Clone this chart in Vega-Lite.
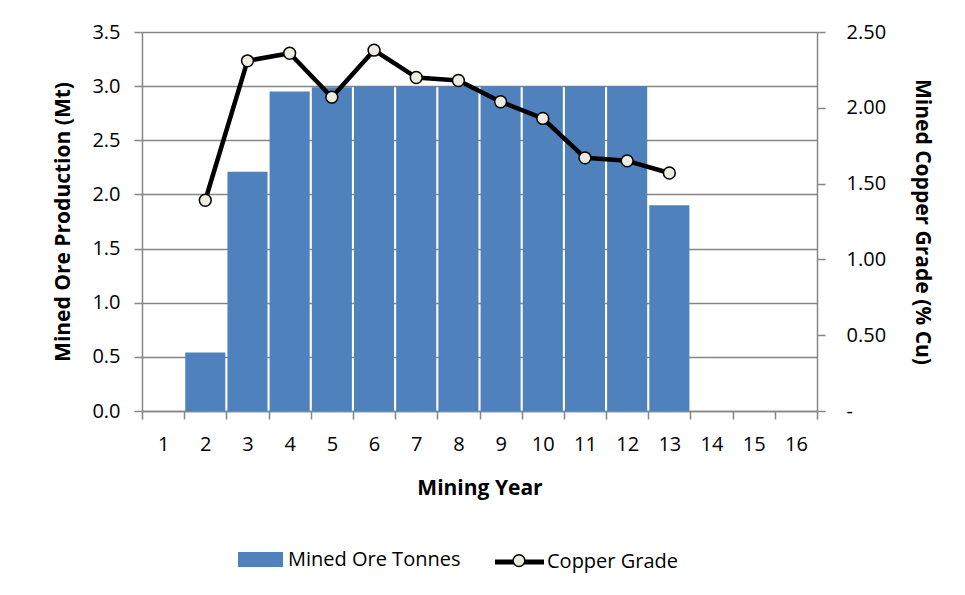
{
  "$schema": "https://vega.github.io/schema/vega-lite/v6.json",
  "width": 675,
  "height": 379,
  "autosize": {"type": "none"},
  "padding": {"left": 142, "top": 32, "right": 148, "bottom": 184},
  "background": "white",
  "config": {
    "view": {"stroke": null},
    "font": "Open Sans",
    "axis": {
      "labelFont": "Open Sans",
      "labelFontSize": 20,
      "labelColor": "black",
      "titleFont": "Open Sans",
      "titleFontSize": 21,
      "titleFontWeight": "bold",
      "titleColor": "black",
      "domainColor": "#868686",
      "domainWidth": 1.5,
      "tickColor": "#868686",
      "tickWidth": 1.5,
      "tickSize": 8,
      "gridColor": "#868686",
      "gridWidth": 1.5
    },
    "legend": {
      "labelFont": "Open Sans",
      "labelFontSize": 20,
      "labelColor": "black",
      "labelLimit": 400,
      "padding": 0,
      "orient": "none",
      "direction": "horizontal",
      "title": null
    }
  },
  "data": {
    "values": [
      {"year": 1, "tonnes": null, "grade": null},
      {"year": 2, "tonnes": 0.54, "grade": 1.39},
      {"year": 3, "tonnes": 2.21, "grade": 2.31},
      {"year": 4, "tonnes": 2.95, "grade": 2.36},
      {"year": 5, "tonnes": 2.99, "grade": 2.07},
      {"year": 6, "tonnes": 3.0, "grade": 2.38},
      {"year": 7, "tonnes": 3.0, "grade": 2.2},
      {"year": 8, "tonnes": 3.0, "grade": 2.18},
      {"year": 9, "tonnes": 3.0, "grade": 2.04},
      {"year": 10, "tonnes": 3.0, "grade": 1.93},
      {"year": 11, "tonnes": 3.0, "grade": 1.67},
      {"year": 12, "tonnes": 3.0, "grade": 1.65},
      {"year": 13, "tonnes": 1.9, "grade": 1.57},
      {"year": 14, "tonnes": null, "grade": null},
      {"year": 15, "tonnes": null, "grade": null},
      {"year": 16, "tonnes": null, "grade": null}
    ]
  },
  "encoding": {
    "x": {
      "field": "year",
      "type": "ordinal",
      "scale": {
        "domain": [1, 2, 3, 4, 5, 6, 7, 8, 9, 10, 11, 12, 13, 14, 15, 16],
        "paddingInner": 0,
        "paddingOuter": 0
      },
      "axis": {
        "title": "Mining Year",
        "labelAngle": 0,
        "tickBand": "extent",
        "grid": false,
        "labelPadding": 15,
        "titlePadding": 23
      }
    }
  },
  "layer": [
    {
      "mark": {"type": "bar", "width": {"band": 0.95}},
      "encoding": {
        "y": {
          "field": "tonnes",
          "type": "quantitative",
          "scale": {"domain": [0, 3.5], "nice": false},
          "axis": {
            "title": "Mined Ore Production (Mt)",
            "values": [0, 0.5, 1, 1.5, 2, 2.5, 3, 3.5],
            "format": ".1f",
            "grid": true,
            "labelPadding": 14,
            "titlePadding": 18
          }
        },
        "fill": {
          "datum": "Mined Ore Tonnes",
          "type": "nominal",
          "scale": {"range": ["#4f81bd"]},
          "legend": {
            "legendX": 103.5,
            "legendY": 512.5,
            "symbolType": "M-1.5,-0.5H1.5V0.5H-1.5Z",
            "symbolSize": 900,
            "symbolStrokeWidth": 0,
            "labelOffset": 12.5
          }
        }
      }
    },
    {
      "encoding": {
        "y": {
          "field": "grade",
          "type": "quantitative",
          "scale": {"domain": [0, 2.5], "nice": false},
          "axis": {
            "orient": "right",
            "title": "Mined Copper Grade (% Cu)",
            "values": [0, 0.5, 1, 1.5, 2, 2.5],
            "labelExpr": "datum.value == 0 ? '-' : format(datum.value, '.2f')",
            "grid": false,
            "labelPadding": 21,
            "titlePadding": 26
          }
        }
      },
      "layer": [
        {
          "mark": {"type": "line", "strokeWidth": 4.5, "strokeJoin": "round"},
          "encoding": {
            "stroke": {
              "datum": "Copper Grade",
              "type": "nominal",
              "scale": {"range": ["black"]},
              "legend": {
                "legendX": 350.5,
                "legendY": 503,
                "symbolType": "stroke",
                "symbolSize": 2401,
                "symbolStrokeWidth": 5,
                "labelOffset": 0.5
              }
            }
          }
        },
        {
          "mark": {
            "type": "point",
            "filled": true,
            "fill": "#eeece1",
            "stroke": "black",
            "strokeWidth": 1.5,
            "size": 140,
            "opacity": 1
          },
          "encoding": {
            "shape": {
              "datum": "grade marker",
              "type": "nominal",
              "scale": {"range": ["circle"]},
              "legend": {
                "legendX": 370,
                "legendY": 521.6,
                "symbolSize": 140,
                "symbolOpacity": 1,
                "labelFontSize": 1,
                "labelExpr": "''",
                "encode": {
                  "symbols": {
                    "update": {
                      "fill": {"value": "#eeece1"},
                      "stroke": {"value": "black"},
                      "strokeWidth": {"value": 1.5},
                      "opacity": {"value": 1}
                    }
                  }
                }
              }
            }
          }
        }
      ]
    }
  ],
  "resolve": {"scale": {"y": "independent"}}
}
